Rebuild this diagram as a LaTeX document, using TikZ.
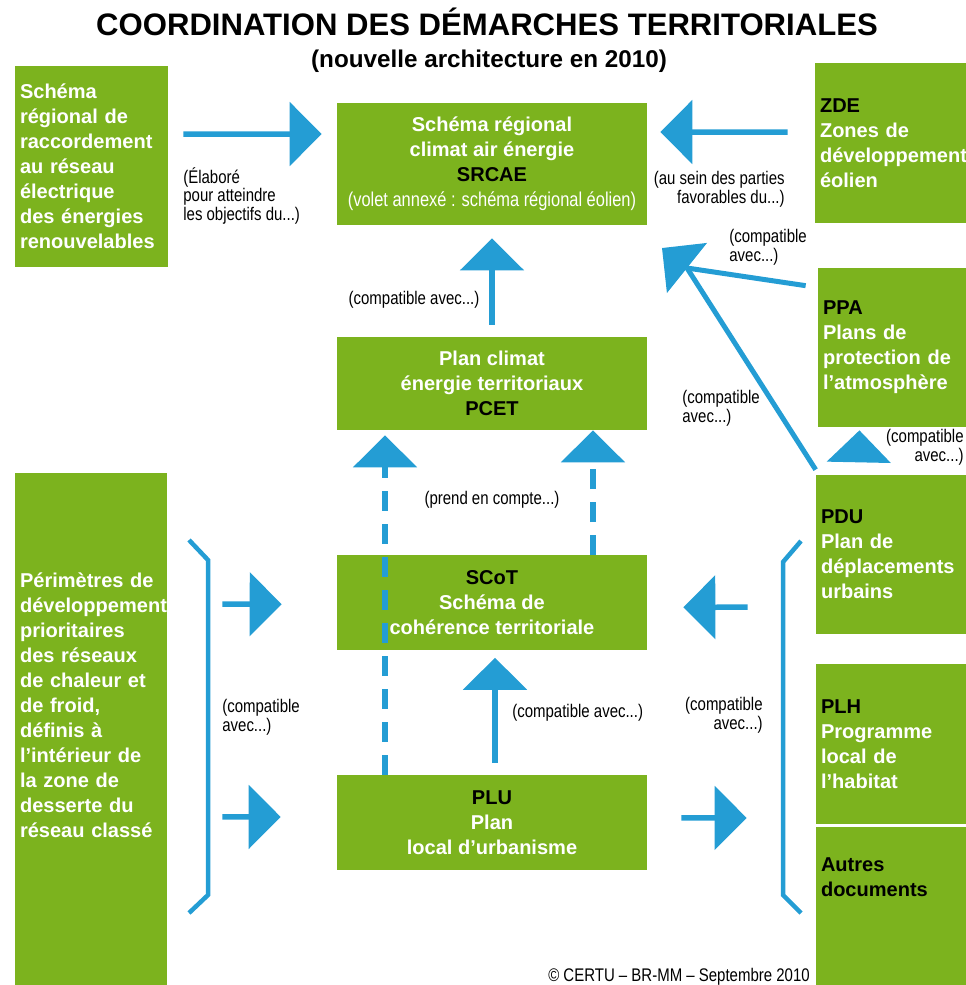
\documentclass[tikz,border=0pt]{standalone}
\usepackage{fontspec}
\setmainfont{Liberation Sans}
\newfontfamily\narrowfont[FakeStretch=0.82]{Liberation Sans}
\usepackage{tikz}
\usetikzlibrary{arrows.meta}

\definecolor{plangreen}{RGB}{124,179,30}
\definecolor{arrowblue}{RGB}{36,157,212}

\newcommand{\boxfont}{\fontsize{11.4}{14.2}\selectfont\bfseries}
\newcommand{\notefont}{\narrowfont\fontsize{10.4}{9.6}\selectfont}
\newcommand{\acro}[1]{\textcolor{black}{#1}}
\newcommand{\padbot}[1]{\rule[-#1]{0pt}{#1}}

\tikzstyle{plan} = [rectangle, fill=plangreen, text=white, font=\boxfont, inner sep=0pt, align=center]
\tikzstyle{sideplan} = [plan, align=left, inner xsep=0.1cm]
\tikzstyle{note} = [font=\notefont, inner sep=0pt, text=black]
\tikzstyle{arrow} = [arrowblue, line width=0.11cm, -{Triangle[length=0.64cm, width=1.26cm]}]
\tikzstyle{dasharrow} = [arrow, dash pattern=on 0.4cm off 0.26cm]
\tikzstyle{brace} = [arrowblue, line width=0.09cm]

\begin{document}
\begin{tikzpicture}[x=0.02cm, y=-0.02cm, node distance=4.39cm]

\useasboundingbox (0,0) rectangle (965,985);

\node (title) [font=\fontsize{17.7}{20}\selectfont\bfseries, anchor=base] at (487,35) {COORDINATION DES DÉMARCHES TERRITORIALES};
\node (subtitle) [font=\fontsize{13.8}{16}\selectfont\bfseries, anchor=base] at (489,67) {(nouvelle architecture en 2010)};

% middle column
\node (srcae) [plan, minimum width=6.2cm, minimum height=2.44cm] at (492,164) {Schéma régional\\climat air énergie\\\acro{SRCAE}\\{\narrowfont\mdseries (volet annexé : schéma régional éolien)}};
\node (pcet) [plan, below of=srcae, minimum width=6.2cm, minimum height=1.86cm] {Plan climat\\énergie territoriaux\\\acro{PCET}};
\node (scot) [plan, below of=pcet, minimum width=6.2cm, minimum height=1.9cm] {\acro{SCoT}\\Schéma de\\cohérence territoriale};
\node (plu) [plan, below of=scot, minimum width=6.2cm, minimum height=1.9cm] {\acro{PLU}\\Plan\\local d’urbanisme};

% left column
\node (srre) [sideplan, text width=2.86cm, minimum height=4.02cm] at (91.5,166.5) {Schéma\\régional de\\raccordement\\au réseau\\électrique\\des énergies\\renouvelables};
\node (pdp) [sideplan, text width=2.84cm, minimum height=10.34cm] at (91,731.5) {Périmètres de\\développement\\prioritaires\\des réseaux\\de chaleur et\\de froid,\\définis à\\l’intérieur de\\la zone de\\desserte du\\réseau classé\padbot{1.06cm}};

% right column
\node (zde) [sideplan, text width=3.0cm, minimum height=3.2cm] at (895,143) {\acro{ZDE}\\Zones de\\développement\\éolien};
\node (ppa) [sideplan, text width=2.94cm, minimum height=3.18cm] at (896.5,347.5) {\acro{PPA}\\Plans de\\protection de\\l’atmosphère};
\node (pdu) [sideplan, text width=2.98cm, minimum height=3.18cm] at (895.5,554.5) {\acro{PDU}\\Plan de\\déplacements\\urbains};
\node (plh) [sideplan, text width=2.98cm, minimum height=3.2cm] at (895.5,744) {\acro{PLH}\\Programme\\local de\\l’habitat};
\node (autres) [sideplan, text=black, text width=2.98cm, minimum height=3.26cm] at (895.5,908.5) {Autres\\documents\padbot{1.26cm}};

% arrows towards SRCAE
\draw [arrow, shorten <=0.3cm, shorten >=0.3cm] ([yshift=0.65cm]srre.east) -- ([yshift=0.6cm]srcae.west);
\draw [arrow, shorten <=0.54cm, shorten >=0.26cm] ([yshift=0.22cm]zde.west) -- ([yshift=0.64cm]srcae.east);
\draw [arrow, shorten <=0.24cm, shorten >=0.26cm] (pcet) -- (srcae);

\coordinate (meet) at (687,268);
\coordinate (diagtip) at (662,248);
\draw [arrowblue, line width=0.1cm] ([xshift=-0.24cm, yshift=-0.36cm]ppa.north west) -- (meet);
\draw [arrowblue, line width=0.1cm] ([yshift=0.1cm]pdu.north west) -- (meet);
\draw [arrow] (meet) -- (diagtip);
\draw [arrow, shorten <=0.26cm, shorten >=0.06cm] ([xshift=-0.74cm]pdu.north) -- ([xshift=-0.74cm]ppa.south);

% arrows towards PCET and SCoT
\draw [dasharrow] ([xshift=2.02cm]scot.north) -- ([xshift=2.02cm]pcet.south);
\draw [dasharrow, shorten >=0.1cm] ([xshift=-2.14cm]plu.north) -- ([xshift=-2.14cm]pcet.south);
\draw [arrow, shorten <=0.24cm, shorten >=0.14cm] ([xshift=0.06cm]plu.north) -- ([xshift=0.06cm]scot.south);
\draw [arrow, shorten <=1.1cm, shorten >=1.1cm] ([yshift=2.55cm]pdp.east) -- ([yshift=-0.03cm]scot.west);
\draw [arrow, shorten <=1.1cm, shorten >=1.12cm] ([yshift=-1.71cm]pdp.east) -- ([yshift=0.11cm]plu.west);
\draw [arrow, shorten <=1.36cm, shorten >=0.72cm] ([yshift=-1.05cm]pdu.west) -- ([yshift=-0.09cm]scot.east);
\draw [arrow, shorten <=0.68cm, shorten >=1.38cm] ([yshift=0.09cm]plu.east) -- ([yshift=-1.48cm]plh.west);

% braces
\draw [brace] (189,540) -- (208,560) -- (208,895) -- (189,913);
\draw [brace] (801,541) -- (783,562) -- (783,895) -- (801,913);

% notes
\node (elabore) [note, anchor=north west, align=left] at (183,167) {(Élaboré\\pour atteindre\\les objectifs du...)};
\node (ausein) [note, anchor=north east, align=right] at (785,171) {(au sein des parties\\favorables du...)};
\node (cppa) [note, anchor=north west, align=left] at (729,229) {(compatible\\avec...)};
\node (csrcae) [note] at (414,300) {(compatible avec...)};
\node (cpdu) [note, anchor=north west, align=left] at (682,390) {(compatible\\avec...)};
\node (cppapdu) [note, anchor=north east, align=right] at (964,429) {(compatible\\avec...)};
\node (prend) [note] at (492,500) {(prend en compte...)};
\node (cscot) [note, anchor=west] at (512,713) {(compatible avec...)};
\node (cleft) [note, anchor=north west, align=left] at (222,699) {(compatible\\avec...)};
\node (cright) [note, anchor=north east, align=right] at (763,697) {(compatible\\avec...)};
\node (copy) [note, anchor=base] at (679,981) {© CERTU – BR-MM – Septembre 2010};

\end{tikzpicture}
\end{document}
